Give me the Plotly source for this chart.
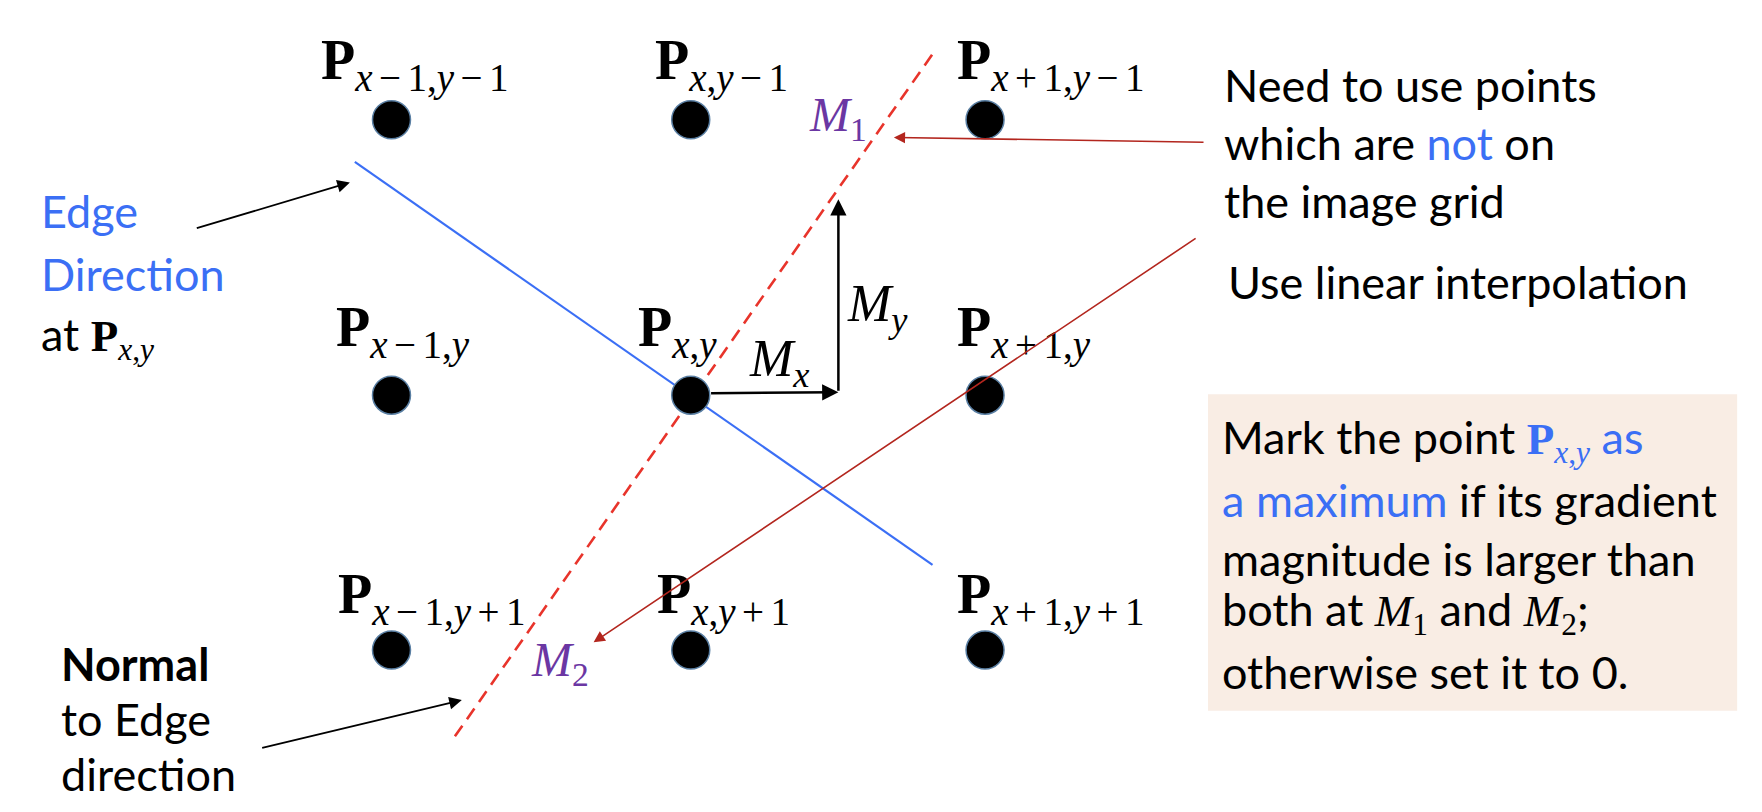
import plotly.graph_objects as go

# grid of pixels (diagram units, y grows downward)
col_x = [387, 689, 986]
row_y = [114, 395, 655]
sub_labels = [
    ["<i>x</i> − 1,<i>y</i> − 1", "<i>x</i>,<i>y</i> − 1", "<i>x</i> + 1,<i>y</i> − 1"],
    ["<i>x</i> − 1,<i>y</i>", "<i>x</i>,<i>y</i>", "<i>x</i> + 1,<i>y</i>"],
    ["<i>x</i> − 1,<i>y</i> + 1", "<i>x</i>,<i>y</i> + 1", "<i>x</i> + 1,<i>y</i> + 1"],
]

# edge direction and its normal
edge_x = [350, 933]
edge_y = [157, 568]
normal_x = [451, 933]
normal_y = [743, 47]

# gradient components from P(x,y)
mx_from = (708, 393)
mx_to = (838, 392)
my_to = (838, 195)

# interpolated points
m1_pos = (838, 112)
m2_pos = (557, 668)

note_lines = [
    "Need to use points",
    "which are <span style='color:#3b6ff5'>not</span> on",
    "the image grid",
]
box_lines = [
    "Mark the point <span style='color:#3b6ff5'><span style='font-family:Liberation Serif'><b>P</b><sub><i>x</i>,<i>y</i></sub></span> as</span>",
    "<span style='color:#3b6ff5'>a maximum</span> if its gradient",
    "magnitude is larger than",
    "both at <span style='font-family:Liberation Serif'><i>M</i><sub>1</sub></span> and <span style='font-family:Liberation Serif'><i>M</i><sub>2</sub></span>;",
    "otherwise set it to 0.",
]

SANS = "Lato"
SERIF = "Liberation Serif"
BLUE = "#3b6ff5"
DARKRED = "#b3261e"
PURPLE = "#6b37a3"

fig = go.Figure()

fig.add_shape(type="rect", x0=1211, y0=394, x1=1745, y1=717,
              fillcolor="#f9ede4", line_width=0, layer="below")

fig.add_trace(go.Scatter(x=edge_x, y=edge_y, mode="lines",
                         line=dict(color=BLUE, width=2.2), hoverinfo="skip"))
fig.add_trace(go.Scatter(x=normal_x, y=normal_y, mode="lines",
                         line=dict(color="#e8342b", width=2.6, dash="13px,8px"), hoverinfo="skip"))

dots_x = [cx for _ in row_y for cx in col_x]
dots_y = [ry for ry in row_y for _ in col_x]
fig.add_trace(go.Scatter(x=dots_x, y=dots_y, mode="markers",
                         marker=dict(size=38, color="black", line=dict(color="#5a7fa3", width=1.5)),
                         hoverinfo="skip"))

ann = []
label_dx = [[-73, -38, -30], [-58, -55, -30], [-56, -36, -30]]
label_dy = [-56, -65, -53]
for i, ry in enumerate(row_y):
    for j, cx in enumerate(col_x):
        sub = sub_labels[i][j].replace(" ", "\u2006")
        ann.append(dict(x=cx + label_dx[i][j], y=ry + label_dy[i], xanchor="left", yanchor="middle",
                        text="<b>P</b><sub><span style='font-size:39px'>" + sub + "</span></sub>",
                        font=dict(family=SERIF, size=56, color="black")))

# gradient arrows
ann.append(dict(x=mx_to[0], y=mx_to[1], ax=mx_from[0], ay=mx_from[1],
                axref="x", ayref="y", showarrow=True, arrowhead=2, arrowsize=1.3,
                arrowwidth=2.5, arrowcolor="black", text=""))
ann.append(dict(x=my_to[0], y=my_to[1], ax=mx_to[0], ay=mx_to[1],
                axref="x", ayref="y", showarrow=True, arrowhead=2, arrowsize=1.3,
                arrowwidth=2.5, arrowcolor="black", text=""))
ann.append(dict(x=778, y=362, text="<i>M</i><sub><i>x</i></sub>", showarrow=False,
                font=dict(family=SERIF, size=52, color="black")))
ann.append(dict(x=877, y=306, text="<i>M</i><sub><i>y</i></sub>", showarrow=False,
                font=dict(family=SERIF, size=52, color="black")))

ann.append(dict(x=m1_pos[0], y=m1_pos[1], text="<i>M</i><sub>1</sub>", showarrow=False,
                font=dict(family=SERIF, size=48, color=PURPLE)))
ann.append(dict(x=m2_pos[0], y=m2_pos[1], text="<i>M</i><sub>2</sub>", showarrow=False,
                font=dict(family=SERIF, size=48, color=PURPLE)))

# pointer arrows
ann.append(dict(x=894, y=132, ax=1208, ay=137, axref="x", ayref="y", showarrow=True,
                arrowhead=2, arrowsize=1.4, arrowwidth=1.6, arrowcolor=DARKRED, text=""))
ann.append(dict(x=591, y=647, ax=1200, ay=234, axref="x", ayref="y", showarrow=True,
                arrowhead=2, arrowsize=1.4, arrowwidth=1.6, arrowcolor=DARKRED, text=""))
ann.append(dict(x=345, y=178, ax=189, ay=225, axref="x", ayref="y", showarrow=True,
                arrowhead=2, arrowsize=1.4, arrowwidth=1.8, arrowcolor="black", text=""))
ann.append(dict(x=458, y=706, ax=255, ay=755, axref="x", ayref="y", showarrow=True,
                arrowhead=2, arrowsize=1.4, arrowwidth=1.8, arrowcolor="black", text=""))

# left captions
left_text = [
    (31, 207, "<span style='color:#3b6ff5'>Edge</span>"),
    (31, 271, "<span style='color:#3b6ff5'>Direction</span>"),
    (31, 336, "at <span style='font-family:Liberation Serif'><b>P</b><sub><i>x</i>,<i>y</i></sub></span>"),
    (51, 669, "<b>Normal</b>"),
    (51, 725, "to Edge"),
    (51, 781, "direction"),
]
for lx, ly, t in left_text:
    ann.append(dict(x=lx, y=ly, text=t, xanchor="left", yanchor="middle", showarrow=False,
                    font=dict(family=SANS, size=45, color="black")))

for k, t in enumerate(note_lines):
    ann.append(dict(x=1225, y=79 + 59 * k, text=t, xanchor="left", yanchor="middle",
                    showarrow=False, font=dict(family=SANS, size=45, color="black")))
ann.append(dict(x=1229, y=280, text="Use linear interpolation", xanchor="left", yanchor="middle",
                showarrow=False, font=dict(family=SANS, size=45, color="black")))

box_y = [441, 502, 562, 616, 677]
for t, by in zip(box_lines, box_y):
    ann.append(dict(x=1223, y=by, text=t, xanchor="left", yanchor="middle",
                    showarrow=False, font=dict(family=SANS, size=45, color="black")))

for a in ann:
    a.setdefault("showarrow", False)
    a.setdefault("xref", "x")
    a.setdefault("yref", "y")

fig.update_layout(
    annotations=ann,
    showlegend=False,
    paper_bgcolor="white",
    plot_bgcolor="white",
    margin=dict(l=0, r=0, t=0, b=0),
    xaxis=dict(range=[0, 1762], visible=False, fixedrange=True),
    yaxis=dict(range=[812, 0], visible=False, fixedrange=True),
)

fig.write_html("out.html")
